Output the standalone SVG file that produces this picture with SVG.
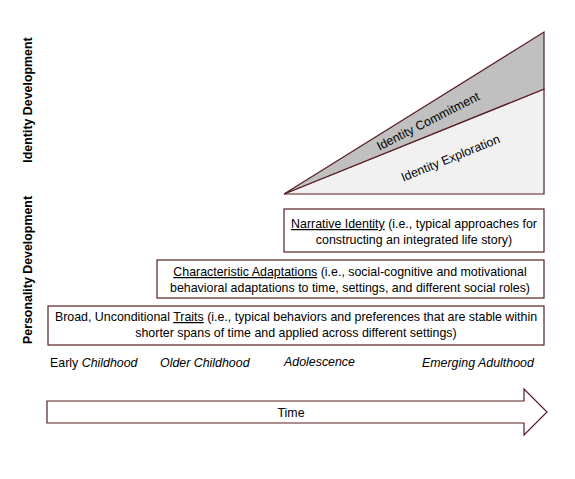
<svg xmlns="http://www.w3.org/2000/svg" width="575" height="479" viewBox="0 0 575 479">
<style>
text{font-family:"Liberation Sans",Arial,sans-serif;font-size:12.4px;fill:#000}
.box{fill:#fff;stroke:#5b1f24;stroke-width:1.2}
.tri{stroke:#5b1f24;stroke-width:1.2}
.side{font-weight:bold}
.it{font-style:italic}
.c{text-anchor:middle}
</style>
<rect width="575" height="479" fill="#fff"/>
<g id="side-labels">
<text class="side c" transform="translate(32,100) rotate(-90)">Identity Development</text>
<text class="side c" transform="translate(32,270) rotate(-90)">Personality Development</text>
</g>
<g id="identity">
<polygon class="tri" points="284,194 544,89 544,194" fill="#f1f1f1"/>
<polygon class="tri" points="284,194 544,32 544,89" fill="#c0c0c0"/>
<text class="c" transform="translate(430,125) rotate(-27)">Identity Commitment</text>
<text class="c" transform="translate(452,162) rotate(-22)">Identity Exploration</text>
</g>
<g id="narrative">
<rect class="box" x="284" y="209" width="260" height="43"/>
<text class="c" x="414" y="228"><tspan text-decoration="underline">Narrative Identity</tspan> (i.e., typical approaches for</text>
<text class="c" x="414" y="244">constructing an integrated life story)</text>
</g>
<g id="adaptations">
<rect class="box" x="157" y="260" width="387" height="38"/>
<text class="c" x="350" y="276"><tspan text-decoration="underline">Characteristic Adaptations</tspan> (i.e., social-cognitive and motivational</text>
<text class="c" x="350" y="292">behavioral adaptations to time, settings, and different social roles)</text>
</g>
<g id="traits">
<rect class="box" x="48" y="306" width="496" height="39"/>
<text class="c" x="296" y="321">Broad, Unconditional <tspan text-decoration="underline">Traits</tspan> (i.e., typical behaviors and preferences that are stable within</text>
<text class="c" x="296" y="337">shorter spans of time and applied across different settings)</text>
</g>
<g id="stages">
<text x="50" y="367">Early <tspan class="it">Childhood</tspan></text>
<text class="it" x="160" y="367">Older Childhood</text>
<text class="it" x="284" y="366">Adolescence</text>
<text class="it" x="422" y="367">Emerging Adulthood</text>
</g>
<g id="time">
<polygon class="box" points="47,401 524,401 524,389 547,412 524,435 524,423 47,423"/>
<text class="c" x="291" y="417">Time</text>
</g>
</svg>
